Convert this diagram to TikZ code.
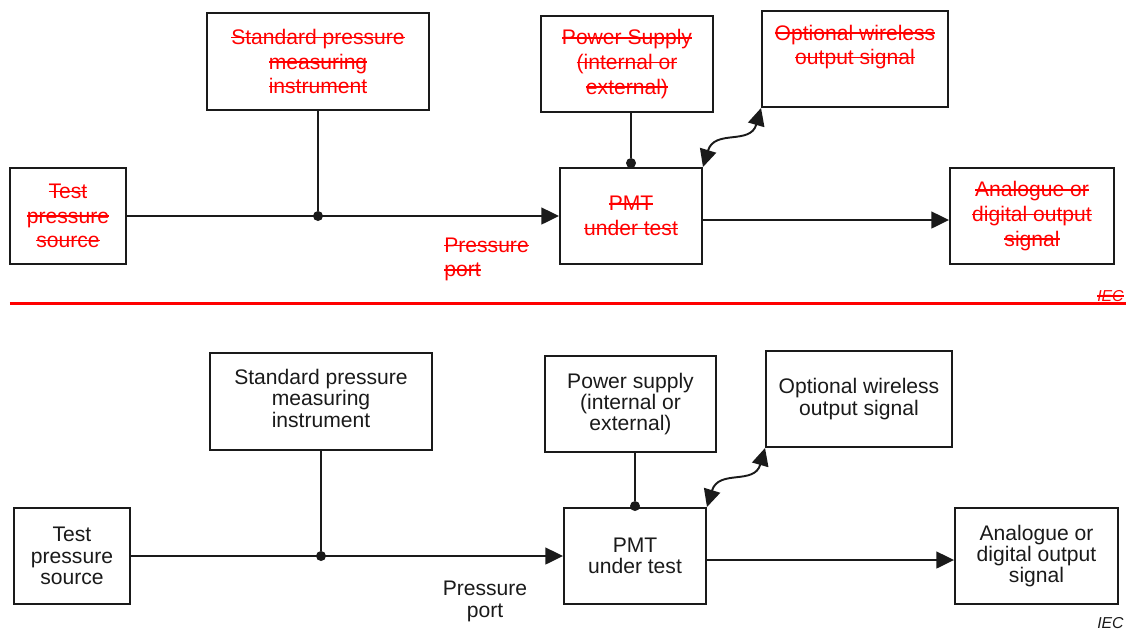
\documentclass[tikz,border=0pt]{standalone}
\usepackage{fontspec}
\setmainfont{Liberation Sans}
\usepackage{tikz}
\usetikzlibrary{arrows.meta,positioning,calc}
\definecolor{LineBlack}{HTML}{1A1A1A}
\definecolor{StrikeRed}{HTML}{FF0000}
% strike-through of one line of text
\newsavebox{\strkbox}
\newcommand{\strk}[1]{\sbox{\strkbox}{#1}\leavevmode
  \rlap{\rule[0.3em]{\wd\strkbox}{0.8pt}}\usebox{\strkbox}}
\tikzset{
  % Base box
  BX/.style={rectangle,draw=LineBlack,line width=1.1pt,inner sep=0pt,
             text centered,align=center},
  % Text variants (struck-out red / plain black)
  tR/.style={align=center,text=StrikeRed,font=\fontsize{12}{14}\selectfont},
  tK/.style={align=center,text=LineBlack,font=\fontsize{12}{12.2}\selectfont},
  % Box variants
  bR/.style={BX,tR},
  bK/.style={BX,tK},
  % Lines and arrows
  ln/.style={line width=1.1pt,draw=LineBlack},
  arr/.style={ln,-{Triangle[length=10pt,width=9.5pt]}},
  warr/.style={ln,{Triangle[length=10pt,width=9.5pt]}-{Triangle[length=10pt,width=9.5pt]}},
  jn/.style={circle,fill=LineBlack,inner sep=0pt,minimum size=0.2cm},
  % Separator and figure tag
  redrule/.style={line width=1.4pt,draw=StrikeRed},
  iecR/.style={text=StrikeRed,inner sep=0pt,font=\fontsize{9}{9}\selectfont\itshape},
  iecK/.style={text=LineBlack,inner sep=0pt,font=\fontsize{9}{9}\selectfont\itshape}
}
\begin{document}
\begin{tikzpicture}
  \useasboundingbox (0,0) rectangle (22.52,-12.6);

  % ---- deleted version (top) ----
  \node[bR,minimum width=2.32cm,minimum height=1.92cm] (src1) at (1.36,-4.32)
       {\strk{Test}\\\strk{pressure}\\\strk{source}};
  \node[bR,minimum width=4.44cm,minimum height=1.94cm] (std1) at (6.36,-1.23)
       {\strk{Standard pressure}\\\strk{measuring}\\\strk{instrument}};
  \node[bR,minimum width=3.44cm,minimum height=1.92cm] (pwr1) at (12.54,-1.28)
       {\strk{Power Supply}\\\strk{(internal or}\\\strk{external)}};
  \node[BX,minimum width=3.72cm,minimum height=1.92cm] (opt1) at (17.10,-1.18) {};
  \node[tR] (optT1) at (17.10,-0.94) {\strk{Optional wireless}\\\strk{output signal}};
  \node[bR,minimum width=2.84cm,minimum height=1.92cm] (pmt1) at (12.62,-4.32)
       {\strk{PMT}\\\strk{under test}};
  \node[bR,minimum width=3.28cm,minimum height=1.92cm] (out1) at (20.64,-4.32)
       {\strk{Analogue or}\\\strk{digital output}\\\strk{signal}};
  \node[tR,align=left,anchor=west,inner sep=0pt] (port1) at (8.88,-5.19)
       {\strk{Pressure}\\\strk{port}};

  \node[jn] (j1) at (std1.south |- src1.east) {};
  \node[jn] (p1) at ([yshift=0.08cm]pmt1.north) {};
  \draw[ln](std1.south) -- (j1);
  \draw[arr](src1.east) -- (pmt1.west);
  \draw[ln](p1) -- (p1 |- pwr1.south);
  \draw[arr]([yshift=-0.08cm]pmt1.east) -- ([yshift=-0.08cm]out1.west);
  \draw[warr](pmt1.north east) .. controls +(73:0.8) and +(254:0.78) .. (opt1.south west);

  \node[iecR,anchor=east] (iec1) at (22.48,-5.92) {\strk{IEC}};
  \draw[redrule](0.2,-6.07) -- (22.52,-6.07);

  % ---- new version (bottom) ----
  \node[bK,minimum width=2.32cm,minimum height=1.92cm] (src2) at (1.44,-11.12)
       {Test\\pressure\\source};
  \node[bK,minimum width=4.44cm,minimum height=1.94cm] (std2) at (6.42,-8.03)
       {Standard pressure\\measuring\\instrument\rule[-0.3em]{0pt}{0pt}};
  \node[bK,minimum width=3.42cm,minimum height=1.92cm] (pwr2) at (12.61,-8.08)
       {Power supply\\(internal or\\external)};
  \node[bK,minimum width=3.72cm,minimum height=1.92cm] (opt2) at (17.18,-7.98)
       {Optional wireless\\output signal};
  \node[bK,minimum width=2.84cm,minimum height=1.92cm] (pmt2) at (12.70,-11.12)
       {PMT\\under test};
  \node[bK,minimum width=3.26cm,minimum height=1.92cm] (out2) at (20.73,-11.12)
       {Analogue or\\digital output\\signal};
  \node[tK,inner sep=0pt] (port2) at (9.70,-12.03) {Pressure\\port};

  \node[jn] (j2) at (std2.south |- src2.east) {};
  \node[jn] (p2) at ([yshift=0.02cm]pmt2.north) {};
  \draw[ln](std2.south) -- (j2);
  \draw[arr](src2.east) -- (pmt2.west);
  \draw[ln](p2) -- (p2 |- pwr2.south);
  \draw[arr]([yshift=-0.08cm]pmt2.east) -- ([yshift=-0.08cm]out2.west);
  \draw[warr](pmt2.north east) .. controls +(73:0.8) and +(254:0.78) .. (opt2.south west);

  \node[iecK,anchor=east] (iec2) at (22.48,-12.46) {IEC};
\end{tikzpicture}
\end{document}
